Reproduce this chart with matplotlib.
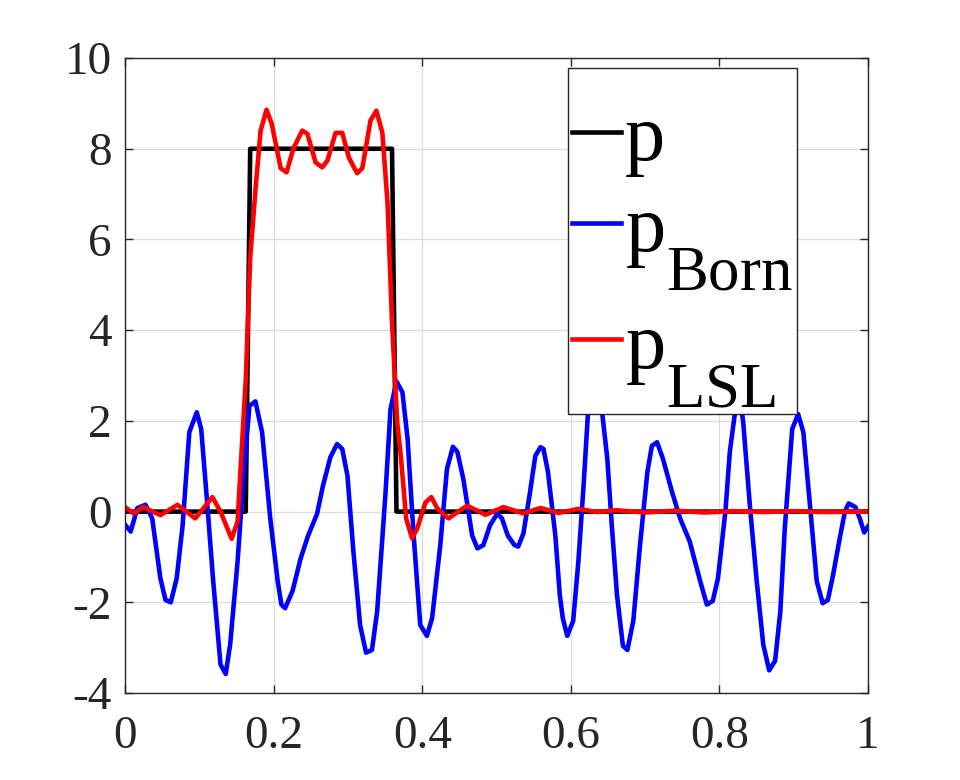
import matplotlib
matplotlib.use('Agg')
import matplotlib.pyplot as plt

plt.rcParams['font.family'] = ['Liberation Serif', 'DejaVu Serif']
plt.rcParams['mathtext.fontset'] = 'custom'
plt.rcParams['mathtext.rm'] = 'Liberation Serif'
plt.rcParams['axes.unicode_minus'] = False

# bigger and lower subscripts, like the matlab tex labels
try:
    import matplotlib._mathtext as _mt
    _mt.SHRINK_FACTOR = 0.78
    _mt.FontConstantsBase.sub1 = 0.9
    _mt.FontConstantsBase.sub2 = 1.1
except Exception:
    pass

# true profile p (step)
x_p = [0.0, 0.162, 0.168, 0.359, 0.365, 1.0]
p = [0, 0, 8, 8, 0, 0]

# Born approximation
x_born = [0.000, 0.007, 0.016, 0.027, 0.036, 0.047, 0.054, 0.061, 0.069, 0.077,
          0.086, 0.096, 0.102, 0.110, 0.118, 0.128, 0.135, 0.141, 0.151, 0.160,
          0.167, 0.175, 0.184, 0.195, 0.205, 0.210, 0.215, 0.225, 0.236, 0.246,
          0.258, 0.266, 0.276, 0.285, 0.292, 0.299, 0.307, 0.316, 0.324, 0.332,
          0.339, 0.350, 0.357, 0.365, 0.373, 0.380, 0.388, 0.397, 0.406, 0.413,
          0.424, 0.433, 0.441, 0.447, 0.455, 0.467, 0.474, 0.482, 0.491, 0.501,
          0.507, 0.515, 0.524, 0.529, 0.536, 0.545, 0.552, 0.559, 0.563, 0.569,
          0.579, 0.585, 0.589, 0.595, 0.603, 0.610, 0.617, 0.623, 0.633, 0.642,
          0.649, 0.655, 0.662, 0.670, 0.676, 0.684, 0.693, 0.703, 0.709, 0.716,
          0.724, 0.736, 0.747, 0.760, 0.774, 0.783, 0.791, 0.798, 0.808, 0.814,
          0.821, 0.826, 0.832, 0.841, 0.850, 0.859, 0.867, 0.875, 0.882, 0.888,
          0.898, 0.906, 0.913, 0.922, 0.931, 0.939, 0.946, 0.953, 0.962, 0.969,
          0.974, 0.983, 0.989, 0.995, 1.000]
p_born = [-0.30, -0.44, 0.08, 0.15, -0.15, -1.47, -1.95, -2.00, -1.47, -0.30,
          1.75, 2.19, 1.82, 0.20, -1.50, -3.37, -3.58, -2.93, -1.10, 1.00,
          2.33, 2.43, 1.75, -0.15, -1.53, -2.05, -2.13, -1.75, -1.03, -0.53,
          -0.05, 0.57, 1.20, 1.49, 1.38, 0.79, -0.88, -2.50, -3.11, -3.05,
          -2.20, 0.35, 2.26, 2.87, 2.63, 1.60, -0.50, -2.50, -2.74, -2.35,
          -0.74, 0.94, 1.43, 1.32, 0.72, -0.53, -0.81, -0.74, -0.30, -0.04,
          -0.15, -0.53, -0.74, -0.77, -0.48, 0.44, 1.23, 1.42, 1.38, 0.88,
          -0.53, -1.84, -2.35, -2.74, -2.41, -1.10, 0.57, 2.19, 3.00, 2.19,
          1.16, -0.30, -1.84, -2.96, -3.05, -2.41, -0.74, 0.88, 1.45, 1.53,
          1.16, 0.44, -0.15, -0.66, -1.53, -2.05, -1.97, -1.47, 0.00, 1.32,
          2.19, 2.70, 1.97, 0.13, -1.50, -2.93, -3.50, -3.29, -2.20, -0.37,
          1.82, 2.15, 1.75, 0.13, -1.53, -2.02, -1.95, -1.40, -0.59, 0.00,
          0.18, 0.10, -0.15, -0.46, -0.33]

# LSL reconstruction
x_lsl = [0.000, 0.011, 0.024, 0.047, 0.070, 0.094, 0.117, 0.128, 0.143, 0.151,
         0.155, 0.162, 0.168, 0.175, 0.182, 0.190, 0.197, 0.209, 0.217, 0.226,
         0.238, 0.245, 0.256, 0.265, 0.272, 0.283, 0.292, 0.301, 0.312, 0.319,
         0.330, 0.338, 0.346, 0.353, 0.359, 0.366, 0.371, 0.378, 0.386, 0.393,
         0.404, 0.412, 0.420, 0.435, 0.460, 0.485, 0.509, 0.536, 0.559, 0.583,
         0.610, 0.635, 0.660, 0.700, 0.740, 0.780, 0.820, 0.860, 0.900, 0.940,
         1.000]
p_lsl = [0.09, -0.04, 0.10, -0.08, 0.15, -0.15, 0.32, 0.00, -0.60, -0.22,
         0.94, 2.90, 5.60, 7.08, 8.40, 8.86, 8.55, 7.57, 7.48, 8.00,
         8.40, 8.33, 7.70, 7.59, 7.74, 8.35, 8.35, 7.80, 7.46, 7.57,
         8.62, 8.84, 8.35, 6.80, 4.17, 1.97, 1.20, -0.15, -0.59, -0.37,
         0.20, 0.32, 0.07, -0.15, 0.13, -0.07, 0.10, -0.04, 0.08, -0.03,
         0.06, -0.01, 0.03, -0.02, 0.02, -0.02, 0.01, -0.01, 0.01, -0.01,
         0.00]

fig = plt.figure(figsize=(9.6, 7.8), dpi=100)
ax = fig.add_axes([0.1307, 0.1115, 0.7734, 0.8141])

lw = 3.3
ax.plot(x_p, p, color='k', lw=lw, label='p')
ax.plot(x_born, p_born, color=(0, 0, 1), lw=lw, label=r'p$_{\mathrm{Born}}$')
ax.plot(x_lsl, p_lsl, color=(1, 0, 0), lw=lw, label=r'p$_{\mathrm{LSL}}$')

ax.set_xlim(0, 1)
ax.set_ylim(-4, 10)
ax.set_xticks([0, 0.2, 0.4, 0.6, 0.8, 1])
ax.set_xticklabels(['0', '0.2', '0.4', '0.6', '0.8', '1'])
ax.set_yticks([-4, -2, 0, 2, 4, 6, 8, 10])

ax.grid(True, color='#dcdcdc', lw=0.9)
ax.set_axisbelow(True)
dark = '#262626'
for s in ax.spines.values():
    s.set_color(dark)
    s.set_linewidth(1.0)
ax.tick_params(direction='in', length=6, width=1.0, colors=dark,
               labelsize=34, top=True, right=True, pad=10)
ax.tick_params(axis='x', pad=16)

# blank title only adds some room above the first entry
leg = ax.legend(loc='upper right', bbox_to_anchor=(0.905, 0.984), fontsize=58,
                title=' ', title_fontsize=10,
                fancybox=False, framealpha=1, edgecolor='#262626',
                handlelength=0.6, handletextpad=0.05, borderpad=0.06,
                labelspacing=0.22, borderaxespad=0)
leg.get_frame().set_linewidth(1.0)

fig.savefig('out.png', dpi=100)
